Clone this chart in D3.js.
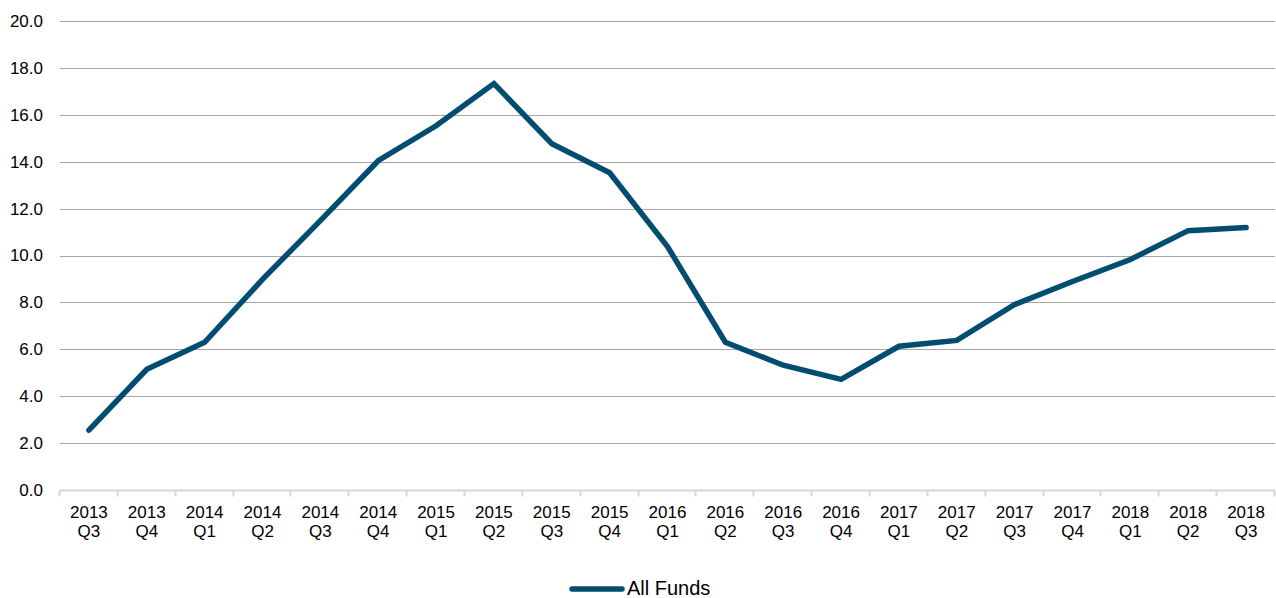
<!DOCTYPE html>
<head>
<meta charset="utf-8">
<script src="https://d3js.org/d3.v7.min.js"></script>
<style>
  body { margin: 0; background: #fff; }
  text { font-family: "Liberation Sans", Arial, sans-serif; fill: #000; }
</style>
</head>
<body>
<div id="chart"></div>
<script>

// quarters along the x axis
var years = ["2013","2013","2014","2014","2014","2014","2015","2015","2015","2015","2016","2016","2016","2016","2017","2017","2017","2017","2018","2018","2018"];
var quarters = ["Q3","Q4","Q1","Q2","Q3","Q4","Q1","Q2","Q3","Q4","Q1","Q2","Q3","Q4","Q1","Q2","Q3","Q4","Q1","Q2","Q3"];

// series values
var allFunds = [2.55, 5.15, 6.3, 8.98, 11.49, 14.04, 15.53, 17.33, 14.77, 13.53, 10.38, 6.3, 5.32, 4.72, 6.13, 6.38, 7.91, 8.89, 9.83, 11.06, 11.19];

var yTicks = [0, 2, 4, 6, 8, 10, 12, 14, 16, 18, 20];

var width = 1276,
    height = 598;

var margin = {top: 21, right: 1, bottom: 108, left: 60};

var svg = d3.select("#chart")
    .append("svg")
    .attr("width", width)
    .attr("height", height);

var labels = years.map(function(y, i) { return y + " " + quarters[i]; });

var x = d3.scaleBand()
    .domain(labels)
    .range([margin.left, width - margin.right]);

var y = d3.scaleLinear()
    .domain([0, 20])
    .range([height - margin.bottom, margin.top]);

// horizontal gridlines
svg.append("g")
    .selectAll("line")
    .data(yTicks.filter(function(d) { return d > 0; }))
    .enter().append("line")
    .attr("x1", margin.left)
    .attr("x2", width - margin.right)
    .attr("y1", function(d) { return Math.round(y(d)) + 0.5; })
    .attr("y2", function(d) { return Math.round(y(d)) + 0.5; })
    .attr("stroke", "#a6a6a6")
    .attr("stroke-width", 1);

// y tick labels
svg.append("g")
    .selectAll("text")
    .data(yTicks)
    .enter().append("text")
    .attr("x", 43)
    .attr("y", function(d) { return y(d); })
    .attr("dy", "0.35em")
    .attr("text-anchor", "end")
    .attr("font-size", 17)
    .text(function(d) { return d.toFixed(1); });

// x axis line and ticks
var y0 = Math.round(y(0)) + 0.5;
svg.append("line")
    .attr("x1", margin.left)
    .attr("x2", width - margin.right)
    .attr("y1", y0)
    .attr("y2", y0)
    .attr("stroke", "#d9d5cf")
    .attr("stroke-width", 2);

var tickPos = labels.map(function(d) { return x(d); }).concat([width - margin.right]);
svg.append("g")
    .selectAll("line")
    .data(tickPos)
    .enter().append("line")
    .attr("x1", function(d) { return Math.round(d) - 0.5; })
    .attr("x2", function(d) { return Math.round(d) - 0.5; })
    .attr("y1", y0)
    .attr("y2", y0 + 6)
    .attr("stroke", "#d9d5cf")
    .attr("stroke-width", 2);

// x tick labels on two lines
var xl = svg.append("g")
    .selectAll("text")
    .data(labels)
    .enter().append("text")
    .attr("x", function(d) { return x(d) + x.bandwidth() / 2; })
    .attr("y", y0 + 27)
    .attr("text-anchor", "middle")
    .attr("font-size", 17);

xl.append("tspan")
    .attr("x", function(d) { return x(d) + x.bandwidth() / 2; })
    .text(function(d, i) { return years[i]; });
xl.append("tspan")
    .attr("x", function(d) { return x(d) + x.bandwidth() / 2; })
    .attr("dy", 19)
    .text(function(d, i) { return quarters[i]; });

// the series line
var line = d3.line()
    .x(function(d, i) { return x(labels[i]) + x.bandwidth() / 2; })
    .y(function(d) { return y(d); });

svg.append("path")
    .datum(allFunds)
    .attr("d", line)
    .attr("fill", "none")
    .attr("stroke", "#004d71")
    .attr("stroke-width", 5.5)
    .attr("stroke-linejoin", "miter")
    .attr("stroke-linecap", "round");

// legend
var legend = svg.append("g");
legend.append("line")
    .attr("x1", 572)
    .attr("x2", 622)
    .attr("y1", 589)
    .attr("y2", 589)
    .attr("stroke", "#004d71")
    .attr("stroke-width", 5.5)
    .attr("stroke-linecap", "round");
legend.append("text")
    .attr("x", 627)
    .attr("y", 595)
    .attr("font-size", 20)
    .text("All Funds");

</script>
</body>
